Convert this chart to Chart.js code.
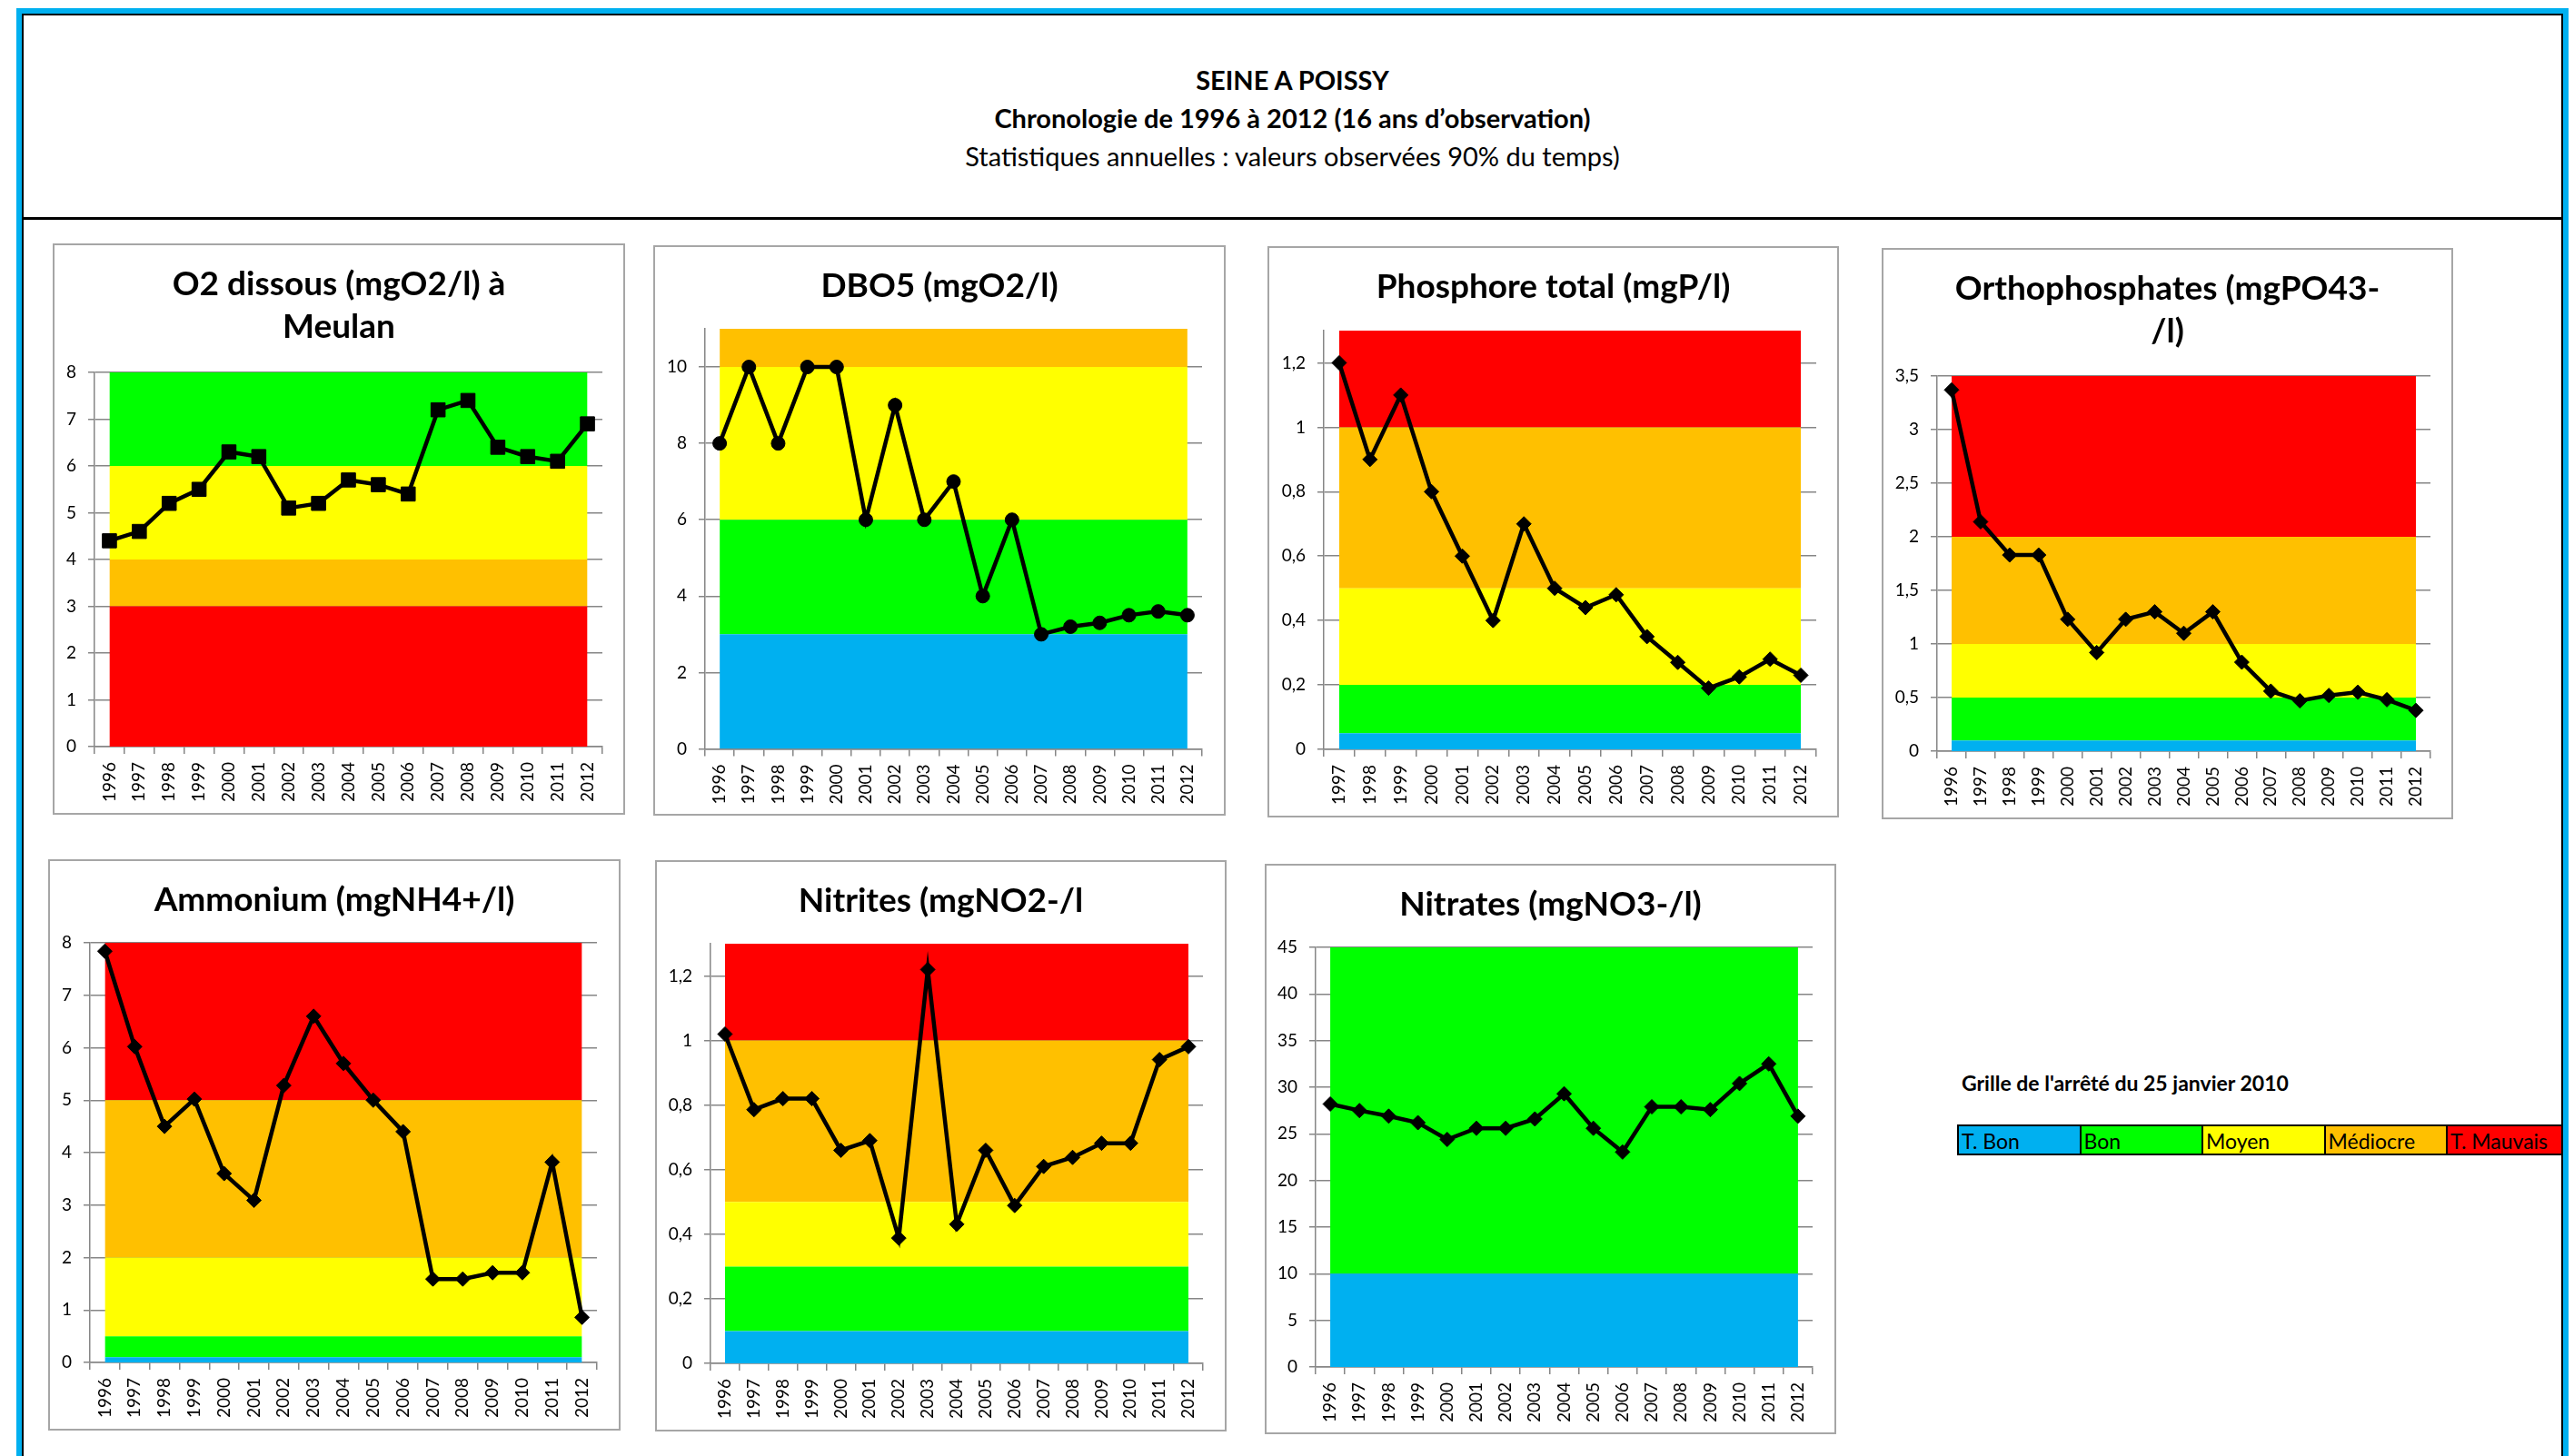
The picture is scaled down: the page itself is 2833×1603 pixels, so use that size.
<!DOCTYPE html>
<html>
<head>
<meta charset="utf-8">
<title>Seine à Poissy – chronologie 1996-2012</title>
<script src="https://cdn.jsdelivr.net/npm/chart.js@4.4.1/dist/chart.umd.min.js"></script>
<style>
  html, body { margin: 0; padding: 0; background: #fff; }
  body { width: 2833px; height: 1603px; position: relative; overflow: hidden; font-family: Lato, "Open Sans", sans-serif; color: #000; }
  .rule { position: absolute; z-index: 5; }
  .panel { position: absolute; box-sizing: border-box; border: 2px solid #a6a6a6; background: #fff; }
  .panel canvas { display: block; }
  .hd { position: absolute; left: 26px; width: 2793px; text-align: center; font-size: 29px; line-height: 34px; white-space: nowrap; }
  .grille-title { position: absolute; left: 2159px; top: 1178px; font-size: 23px; font-weight: bold; line-height: 28px; white-space: nowrap; }
  .grille { position: absolute; left: 2154px; top: 1238px; width: 665px; height: 34px; overflow: hidden; }
  .grille div { position: absolute; top: 0; height: 30px; box-sizing: content-box; border: 2px solid #000; font-size: 23px; line-height: 32px; padding-left: 3px; white-space: nowrap; }
</style>
</head>
<body>

<!-- page frame -->
<div class="rule" style="left:18px;top:9px;width:6px;height:1594px;background:#00b0f0"></div>
<div class="rule" style="left:18px;top:9px;width:2809px;height:6px;background:#00b0f0"></div>
<div class="rule" style="left:2821px;top:9px;width:6px;height:1594px;background:#00b0f0"></div>
<div class="rule" style="left:24px;top:15px;width:2797px;height:2px;background:#000"></div>
<div class="rule" style="left:24px;top:15px;width:2px;height:1588px;background:#000"></div>
<div class="rule" style="left:2819px;top:15px;width:2px;height:1588px;background:#000"></div>
<div class="rule" style="left:26px;top:239px;width:2793px;height:3px;background:#000"></div>

<!-- header -->
<div class="hd" style="top:71px;font-weight:bold">SEINE A POISSY</div>
<div class="hd" style="top:113px;font-weight:bold">Chronologie de 1996 à 2012 (16 ans d’observation)</div>
<div class="hd" style="top:155px">Statistiques annuelles : valeurs observées 90% du temps)</div>

<!-- quality grid -->
<div class="grille-title">Grille de l'arrêté du 25 janvier 2010</div>
<div class="grille" id="grille"></div>

<script>
// ---- categories ----
const years = ['1996','1997','1998','1999','2000','2001','2002','2003','2004','2005','2006','2007','2008','2009','2010','2011','2012'];
const yearsPtot = ['1997','1998','1999','2000','2001','2002','2003','2004','2005','2006','2007','2008','2009','2010','2011','2012'];

// ---- annual values (90% of the time) ----
const o2Values   = [4.4, 4.6, 5.2, 5.5, 6.3, 6.2, 5.1, 5.2, 5.7, 5.6, 5.4, 7.2, 7.4, 6.4, 6.2, 6.1, 6.9];
const dbo5Values = [8, 10, 8, 10, 10, 6, 9, 6, 7, 4, 6, 3, 3.2, 3.3, 3.5, 3.6, 3.5];
const ptotValues = [1.2, 0.9, 1.1, 0.8, 0.6, 0.4, 0.7, 0.5, 0.44, 0.48, 0.35, 0.27, 0.19, 0.225, 0.28, 0.23];
const po4Values  = [3.37, 2.14, 1.83, 1.83, 1.23, 0.92, 1.23, 1.3, 1.1, 1.3, 0.83, 0.56, 0.47, 0.52, 0.55, 0.48, 0.38];
const nh4Values  = [7.84, 6.02, 4.5, 5.02, 3.6, 3.09, 5.28, 6.6, 5.7, 5.0, 4.4, 1.59, 1.59, 1.71, 1.71, 3.82, 0.86];
const no2Values  = [1.02, 0.786, 0.82, 0.82, 0.66, 0.69, 0.388, 1.22, 0.431, 0.66, 0.489, 0.61, 0.638, 0.682, 0.682, 0.941, 0.981];
const no3Values  = [28.2, 27.5, 26.9, 26.2, 24.4, 25.6, 25.6, 26.6, 29.3, 25.6, 23.05, 27.9, 27.9, 27.6, 30.4, 32.5, 26.9];

// ---- quality class limits (upper bound of each band, from the bottom) ----
const o2Limits   = [3, 4, 6, 8];
const dbo5Limits = [3, 6, 10, 11];
const ptotLimits = [0.05, 0.2, 0.5, 1, 1.3];
const po4Limits  = [0.1, 0.5, 1, 2, 3.5];
const nh4Limits  = [0.1, 0.5, 2, 5, 8];
const no2Limits  = [0.1, 0.3, 0.5, 1, 1.3];
const no3Limits  = [10, 45];

// ---- class names of the grid ----
const classNames = ['T. Bon', 'Bon', 'Moyen', 'Médiocre', 'T. Mauvais'];

const C = { tbon: '#00b0f0', bon: '#00ff00', moyen: '#ffff00', mediocre: '#ffc000', mauvais: '#ff0000' };
const classColors = [C.tbon, C.bon, C.moyen, C.mediocre, C.mauvais];

// legend strip
const grille = document.getElementById('grille');
classNames.forEach((name, i) => {
  const d = document.createElement('div');
  d.style.left = (i * 134.5) + 'px';
  d.style.width = '130.5px';
  d.style.background = classColors[i];
  d.textContent = name;
  grille.appendChild(d);
});

const panels = [
  { box: [58, 268, 630, 629], area: [46, 142, 605, 554], title: ['O2 dissous (mgO2/l) à', 'Meulan'],
    labels: years, values: o2Values, limits: o2Limits, colors: [C.mauvais, C.mediocre, C.moyen, C.bon],
    max: 8, step: 1, lastTick: 8, marker: 'rect', radius: 11 },
  { box: [719, 270, 630, 628], area: [57, 92, 604, 554.5], title: ['DBO5 (mgO2/l)'],
    labels: years, values: dbo5Values, limits: dbo5Limits, colors: [C.tbon, C.bon, C.moyen, C.mediocre],
    max: 11, step: 2, lastTick: 10, marker: 'circle', radius: 7.5 },
  { box: [1395, 271, 629, 629], area: [62, 93, 604, 554], title: ['Phosphore total (mgP/l)'],
    labels: yearsPtot, values: ptotValues, limits: ptotLimits, colors: classColors,
    max: 1.3, step: 0.2, lastTick: 1.2, marker: 'rectRot', radius: 8 },
  { box: [2071, 273, 629, 629], area: [61, 141, 604, 554], title: ['Orthophosphates (mgPO43-', '/l)'],
    labels: years, values: po4Values, limits: po4Limits, colors: classColors,
    max: 3.5, step: 0.5, lastTick: 3.5, marker: 'rectRot', radius: 8 },
  { box: [53, 946, 630, 629], area: [46, 92, 604, 554], title: ['Ammonium (mgNH4+/l)'],
    labels: years, values: nh4Values, limits: nh4Limits, colors: classColors,
    max: 8, step: 1, lastTick: 8, marker: 'rectRot', radius: 8 },
  { box: [721, 947, 629, 629], area: [61, 92, 603, 554], title: ['Nitrites (mgNO2-/l'],
    labels: years, values: no2Values, limits: no2Limits, colors: classColors,
    max: 1.3, step: 0.2, lastTick: 1.2, marker: 'rectRot', radius: 8 },
  { box: [1392, 951, 629, 628], area: [56, 92, 603, 554], title: ['Nitrates (mgNO3-/l)'],
    labels: years, values: no3Values, limits: no3Limits, colors: [C.tbon, C.bon],
    max: 45, step: 5, lastTick: 45, marker: 'rectRot', radius: 8 }
];

const FONT = 'Lato';
const GRID = '#868686';
const fmt = v => (Math.round(v * 100) / 100).toString().replace('.', ',');

function makeChart(p) {
  const B = 2;
  const [L, T, W, H] = p.box;
  const div = document.createElement('div');
  div.className = 'panel';
  Object.assign(div.style, { left: L + 'px', top: T + 'px', width: W + 'px', height: H + 'px' });
  const cw = W - 2 * B, ch = H - 2 * B;
  const canvas = document.createElement('canvas');
  canvas.width = cw; canvas.height = ch;
  canvas.style.width = cw + 'px'; canvas.style.height = ch + 'px';
  div.appendChild(canvas);
  document.body.appendChild(div);

  const [ax, at, ar, ab] = p.area.map(v => v - B);
  const LH = 47, PT = 19.5;
  const nLines = p.title.length;

  const datasets = [{
    data: p.values, order: 0, borderColor: '#000', borderWidth: 4.5, tension: 0, fill: false, clip: false,
    pointStyle: p.marker, pointRadius: p.radius, pointBackgroundColor: '#000', pointBorderColor: '#000', pointBorderWidth: 1
  }];
  p.limits.forEach((lim, i) => {
    datasets.push({
      data: p.labels.map(() => lim), order: 1, backgroundColor: p.colors[i],
      borderWidth: 0, borderColor: 'rgba(0,0,0,0)', pointRadius: 0, tension: 0,
      fill: i === 0 ? 'origin' : '-1'
    });
  });

  new Chart(canvas, {
    type: 'line',
    data: { labels: p.labels, datasets },
    options: {
      responsive: false, animation: false, devicePixelRatio: 1,
      events: [],
      layout: { padding: 0 },
      plugins: {
        legend: { display: false },
        tooltip: { enabled: false },
        title: {
          display: true, text: p.title, color: '#000',
          font: { family: FONT, size: 37, weight: 'bold', lineHeight: LH + 'px' },
          padding: { top: PT, bottom: at - PT - nLines * LH }
        }
      },
      scales: {
        x: {
          offset: true,
          grid: { offset: true, drawOnChartArea: false, drawTicks: true, tickLength: 8, color: GRID, lineWidth: 1.5 },
          border: { display: true, color: GRID, width: 1.5 },
          ticks: { minRotation: 90, maxRotation: 90, autoSkip: false, padding: 9, color: '#000', font: { family: FONT, size: 19 } },
          afterFit: s => { s.height = ch - ab; }
        },
        y: {
          min: 0, max: p.max,
          grid: { color: GRID, lineWidth: 1.5, tickLength: 7 },
          border: { display: true, color: GRID, width: 1.5 },
          ticks: { stepSize: p.step, padding: 13, color: '#000', font: { family: FONT, size: 19 }, callback: v => fmt(v) },
          afterBuildTicks: s => { s.ticks = s.ticks.filter(t => t.value <= p.lastTick + 1e-9); },
          afterFit: s => { s.width = ax; }
        },
        // empty right-hand margin so the title stays centred on the whole panel
        margin: {
          type: 'linear', position: 'right', display: true,
          grid: { display: false, drawTicks: false }, border: { display: false }, ticks: { display: false },
          afterFit: s => { s.width = cw - ar; }
        }
      }
    }
  });
}

const ready = (document.fonts && document.fonts.load)
  ? Promise.all([document.fonts.load('bold 37px Lato'), document.fonts.load('19px Lato')]).catch(() => {})
  : Promise.resolve();
ready.then(() => panels.forEach(makeChart));
</script>
</body>
</html>
